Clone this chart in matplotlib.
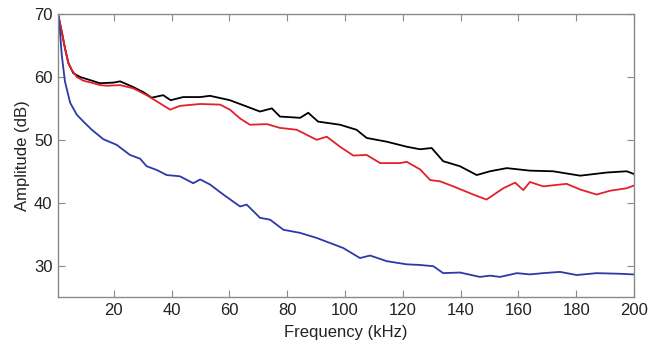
import matplotlib
matplotlib.use("Agg")
import matplotlib.pyplot as plt

plt.rcParams["font.family"] = ["Liberation Sans", "DejaVu Sans"]

# ── values (frequency in kHz, amplitude in dB) ─────────────────────────────
black_f = [0.8, 2, 3.1, 4.3, 6, 8.3, 11.8, 15.2, 19.9, 22.2, 26.7, 30.2, 33.1, 37.1,
           39.7, 44, 49.9, 53.3, 60.2, 70.6, 74.7, 77.5, 84.5, 87.3, 90.7, 98.3,
           104, 107.5, 114.5, 121.4, 126, 130, 134, 139.8, 145.6, 150.2, 156, 164,
           172, 181.4, 190.6, 197.5, 199.8]
black_v = [69.8, 67.2, 64.6, 62.2, 60.6, 60, 59.5, 59, 59.1, 59.3, 58.4, 57.6, 56.7, 57.1,
           56.3, 56.8, 56.8, 57, 56.3, 54.5, 55, 53.7, 53.5, 54.3, 52.9, 52.4,
           51.6, 50.3, 49.7, 48.9, 48.5, 48.7, 46.6, 45.8, 44.4, 45, 45.5, 45.1,
           45, 44.3, 44.8, 45, 44.6]

red_f = [0.8, 2, 3.1, 4.3, 5.5, 7.2, 9.5, 13, 15.3, 17.6, 22.2, 26.7, 31.4, 36,
         39.5, 42.9, 49.9, 56.8, 60.2, 63.7, 67.1, 73, 77.5, 83.3, 90.2, 93.7,
         98.3, 102.9, 107.5, 112.2, 119.1, 121.4, 126, 129.5, 132.9, 137.5, 144.4,
         149, 154.8, 158.9, 161.7, 164, 168.6, 176.7, 181.4, 187.1, 191.7, 197.5,
         199.8]
red_v = [69.8, 67.2, 64.6, 62.2, 61.1, 60, 59.4, 59, 58.7, 58.6, 58.7, 58.2, 57.1, 55.8,
         54.8, 55.4, 55.7, 55.6, 54.8, 53.4, 52.4, 52.5, 51.9, 51.6, 50, 50.5,
         48.9, 47.5, 47.6, 46.3, 46.3, 46.5, 45.3, 43.6, 43.4, 42.6, 41.3,
         40.5, 42.3, 43.2, 42, 43.3, 42.6, 43, 42.1, 41.3, 41.9, 42.3,
         42.7]

blue_f = [0.8, 1.4, 2, 3.1, 4.9, 7.2, 9.5, 12.4, 16.4, 21, 25.6, 29.1, 31.4, 34.9,
          38.3, 42.9, 47.5, 49.9, 53.3, 57.9, 63.7, 66, 70.6, 74.1, 78.7, 84.5,
          90.2, 94.8, 99.4, 105.2, 108.7, 114.5, 121.4, 126, 130.6, 134, 139.8,
          146.7, 150.2, 153.7, 159.5, 164, 168.6, 174.4, 180.2, 187.1, 195.1, 199.8]
blue_v = [69.8, 67.2, 63.5, 59.3, 55.9, 54, 52.9, 51.6, 50.1, 49.2, 47.6, 47, 45.8, 45.2,
          44.4, 44.2, 43.1, 43.7, 42.9, 41.3, 39.4, 39.7, 37.6, 37.3, 35.7, 35.2,
          34.4, 33.6, 32.8, 31.2, 31.6, 30.7, 30.2, 30.1, 29.9, 28.8, 28.9,
          28.2, 28.4, 28.2, 28.8, 28.6, 28.8, 29, 28.5, 28.8, 28.7, 28.6]

x_ticks = [20, 40, 60, 80, 100, 120, 140, 160, 180, 200]
y_ticks = [30, 40, 50, 60, 70]

fig = plt.figure(figsize=(6.62, 3.43), dpi=100)
ax = fig.add_axes([0.0876, 0.134, 0.870, 0.825])

ax.plot(black_f, black_v, color="black", lw=1.3)
ax.plot(red_f, red_v, color="#e4202a", lw=1.3)
ax.plot(blue_f, blue_v, color="#2b3aa6", lw=1.3)

ax.set_xlim(0.7, 200)
ax.set_ylim(25, 70)
ax.set_xticks(x_ticks)
ax.set_yticks(y_ticks)
ax.tick_params(direction="in", top=True, right=True, length=5, width=0.8,
               color="#8a8a8a", labelsize=12, labelcolor="#222222", pad=4)
for s in ax.spines.values():
    s.set_color("#8a8a8a")
    s.set_linewidth(1.0)

ax.set_xlabel("Frequency (kHz)", fontsize=12, color="#222222", labelpad=5)
ax.set_ylabel("Amplitude (dB)", fontsize=12, color="#222222", labelpad=3)

fig.savefig("out.png", dpi=100)
